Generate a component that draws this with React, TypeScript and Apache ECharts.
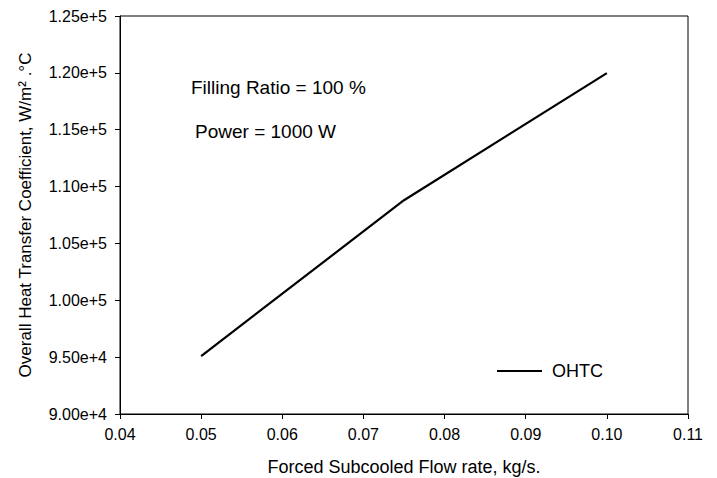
import React, { useEffect, useRef } from "react";
import * as echarts from "echarts";

const flowRates = [0.05, 0.075, 0.1];
const ohtcValues = [95100, 108800, 119980];
const seriesName = "OHTC";
const annotations = ["Filling Ratio = 100 %", "Power = 1000 W"];
const xTitle = "Forced Subcooled Flow rate, kg/s.";
const yTitle = "Overall Heat Transfer Coefficient, W/m² .°C";

const FONT = "'Liberation Sans', Arial, sans-serif";

export default function App() {
  const ref = useRef<HTMLDivElement>(null);
  useEffect(() => {
    document.body.style.margin = "0";
    if (!ref.current) return;
    const chart = echarts.init(ref.current, undefined, { renderer: "svg" });
    chart.setOption({
      animation: false,
      backgroundColor: "#fff",
      textStyle: { fontFamily: FONT, color: "#000" },
      grid: {
        left: 120,
        top: 16,
        right: 29,
        bottom: 64,
        outerBoundsMode: "none",
        containLabel: false,
        show: true,
        borderColor: "#000",
        borderWidth: 1,
        backgroundColor: "transparent",
      },
      xAxis: {
        type: "value",
        min: 0.04,
        max: 0.11,
        interval: 0.01,
        name: xTitle,
        nameLocation: "middle",
        nameGap: 44,
        nameTextStyle: { fontSize: 18, color: "#000", fontFamily: FONT },
        axisLine: { show: true, lineStyle: { color: "#000", width: 1 } },
        axisTick: { show: true, inside: false, length: 5, lineStyle: { color: "#000" } },
        axisLabel: {
          margin: 12,
          fontSize: 16,
          color: "#000",
          fontFamily: FONT,
          formatter: (v: number) => v.toFixed(2),
        },
        splitLine: { show: false },
      },
      yAxis: {
        type: "value",
        min: 90000,
        max: 125000,
        interval: 5000,
        name: yTitle,
        nameLocation: "middle",
        nameGap: 86,
        nameTextStyle: { fontSize: 17, color: "#000", fontFamily: FONT },
        axisLine: { show: true, lineStyle: { color: "#000", width: 1 } },
        axisTick: { show: true, inside: false, length: 5, lineStyle: { color: "#000" } },
        axisLabel: {
          margin: 13,
          fontSize: 16,
          color: "#000",
          fontFamily: FONT,
          formatter: (v: number) => v.toExponential(2),
        },
        splitLine: { show: false },
      },
      legend: {
        show: true,
        left: 492,
        top: 357,
        itemWidth: 45,
        itemHeight: 2.2,
        icon: "rect",
        textStyle: { fontSize: 18, color: "#000", fontFamily: FONT, padding: [0, 0, 0, 5] },
        data: [seriesName],
      },
      graphic: [
        {
          type: "text",
          left: 191,
          top: 78,
          style: { text: annotations[0], font: `19px ${FONT}`, fill: "#000" },
        },
        {
          type: "text",
          left: 195,
          top: 122,
          style: { text: annotations[1], font: `19px ${FONT}`, fill: "#000" },
        },
      ],
      series: [
        {
          name: seriesName,
          type: "line",
          data: flowRates.map((x, i) => [x, ohtcValues[i]]),
          symbol: "none",
          lineStyle: { color: "#000", width: 2.2 },
          itemStyle: { color: "#000" },
        },
      ],
    });
    return () => chart.dispose();
  }, []);
  return <div ref={ref} style={{ width: 717, height: 478 }} />;
}
